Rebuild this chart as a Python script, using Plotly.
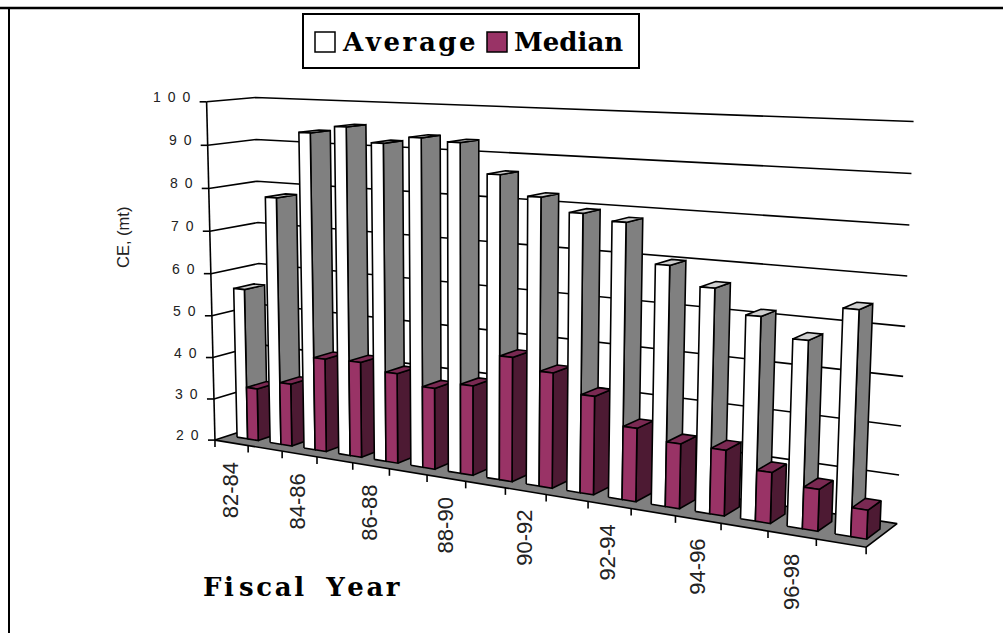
import numpy as np
import plotly.graph_objects as go

# --- data ---
periods = ["82-84","83-85","84-86","85-87","86-88","87-89","88-90","89-91",
           "90-92","91-93","92-94","93-95","94-96","95-97","96-98","97-99"]
average = [56, 78.2, 93.5, 95.2, 92, 93.6, 93, 86.6, 82.4, 79.6, 78.4, 70.3, 66.5, 61.7, 57.9, 64.9]
median = [32.5, 34.8, 41.8, 42.1, 40.6, 38.4, 40.1, 47.5, 45.2, 41.3, 35.7, 33.7, 33.7, 30.5, 28.5, 25.8]
z_ticks = [20, 30, 40, 50, 60, 70, 80, 90, 100]
z_labels = ["2\u20020", "3\u20020", "4\u20020", "5\u20020", "6\u20020", "7\u20020", "8\u20020", "9\u20020", "1\u20020\u20020"]
x_label_every = 2

# --- oblique camera, fitted to the corners of the chart's 3-D box ---
Z0, Z1, NU = 20, 100, len(periods)
frame = [  # (category position, depth, value) -> (pixel x, pixel y)
    ((0, 0, 20), (217, 439)), ((0, 0, 100), (205, 102)), ((0, 0, 90), (207, 146)),
    ((0, 1, 100), (257, 97)), ((0, 1, 90), (257, 139)), ((0, 1, 20), (260, 426)),
    ((16, 0, 20), (867, 547)), ((16, 1, 20), (897, 523)), ((16, 1, 100), (913.5, 122)),
    ((16, 1, 60), (905, 326)), ((8, 0, 20), (505, 488)), ((4, 0, 20), (353, 462)),
    ((12, 0, 20), (675, 517)),
]
def _norm(u, d, z):
    return u / NU, d, (z - Z0) / (Z1 - Z0)
A, b = [], []
for (p3, (px, py)) in frame:
    X, Y, W = _norm(*p3)
    A.append([X, Y, W, 1, 0, 0, 0, 0, -px*X, -px*Y, -px*W]); b.append(px)
    A.append([0, 0, 0, 0, X, Y, W, 1, -py*X, -py*Y, -py*W]); b.append(py)
sol = np.linalg.lstsq(np.array(A, float), np.array(b, float), rcond=None)[0]
P = np.append(sol, 1.0).reshape(3, 4)
def proj(u, d, z):
    X, Y, W = _norm(u, d, z)
    v = P @ np.array([X, Y, W, 1.0])
    return v[0] / v[2], v[1] / v[2]

fig = go.Figure()
LW = 1.6
def poly(pts, fill):
    xs, ys = zip(*[proj(*p) for p in pts])
    fig.add_trace(go.Scatter(x=list(xs)+[xs[0]], y=list(ys)+[ys[0]], mode="lines", fill="toself",
                             fillcolor=fill, line=dict(color="black", width=LW),
                             hoverinfo="skip", showlegend=False))
def line(pts, width=LW):
    xs, ys = zip(*[proj(*p) for p in pts])
    fig.add_trace(go.Scatter(x=list(xs), y=list(ys), mode="lines", line=dict(color="black", width=width),
                             hoverinfo="skip", showlegend=False))

# walls and floor
for z in z_ticks[1:]:
    line([(0, 0, z), (0, 1, z), (NU, 1, z)])
poly([(0, 0, Z0), (NU, 0, Z0), (NU, 1, Z0), (0, 1, Z0)], "#808080")
line([(0, 0, Z0), (0, 0, Z1)])

# bars
GAP, W, D0, D1, PITCH = 0.27, 0.32, 0.275, 0.70, 0.995
def bar(u0, u1, z, front, side, top):
    poly([(u1, D0, Z0), (u1, D1, Z0), (u1, D1, z), (u1, D0, z)], side)
    poly([(u0, D0, z), (u1, D0, z), (u1, D1, z), (u0, D1, z)], top)
    poly([(u0, D0, Z0), (u1, D0, Z0), (u1, D0, z), (u0, D0, z)], front)
for i in range(NU):
    u = i * PITCH + GAP
    bar(u, u+W, average[i], "#FFFFFF", "#808080", "#D0D0D0")
    bar(u+W, u+2*W, median[i], "#993366", "#4D1A33", "#7A2952")

# ticks and labels (offsets from the axis in pixels)
ann = []
tx, ty = [], []
for i in range(NU + 1):
    x, y = proj(i, 0, Z0)
    tx += [x, x, None]; ty += [y, y + 7, None]
for z, lab in zip(z_ticks, z_labels):
    x, y = proj(0, 0, z)
    tx += [x - 7, x, None]; ty += [y, y, None]
    ann.append(dict(x=x - 13.5, y=y - 5, text=lab, xanchor="right", yanchor="middle", showarrow=False,
                    font=dict(family="Liberation Sans", size=14, color="#222222")))
fig.add_trace(go.Scatter(x=tx, y=ty, mode="lines", line=dict(color="black", width=LW),
                         hoverinfo="skip", showlegend=False))
for i in range(0, NU, x_label_every):
    x, y = proj(i + 0.5, 0, Z0)
    ann.append(dict(x=x - 1, y=y + 47, text=periods[i], textangle=-90, xanchor="center", yanchor="middle",
                    showarrow=False, font=dict(family="Liberation Sans", size=22, color="#222222")))
ann.append(dict(x=123, y=238, text="CE, (mt)", textangle=-90, xanchor="center", yanchor="middle", showarrow=False,
                font=dict(family="Liberation Sans", size=16.5, color="#222222")))
hair, thin = "\u200a", "\u2009"
ann.append(dict(x=201, y=587, text="<b>F" + hair + "i" + thin + hair.join("scal") + " \u2002" + hair.join("Year") + "</b>",
                xanchor="left", yanchor="middle", showarrow=False,
                font=dict(family="DejaVu Serif", size=26, color="black")))
ann.append(dict(x=340, y=42, text="<b>" + hair.join("Average") + "</b>", xanchor="left", yanchor="middle", showarrow=False,
                font=dict(family="DejaVu Serif", size=26, color="black")))
ann.append(dict(x=512, y=42, text="<b>Median</b>", xanchor="left", yanchor="middle", showarrow=False,
                font=dict(family="DejaVu Serif", size=26, color="black")))

shapes = [
    dict(type="line", x0=0, x1=1003, y0=8, y1=8, line=dict(color="black", width=2.5)),
    dict(type="line", x0=9, x1=9, y0=8, y1=633, line=dict(color="black", width=2)),
    dict(type="rect", x0=303, x1=639, y0=14, y1=68, line=dict(color="black", width=2), fillcolor="white"),
    dict(type="rect", x0=315, x1=335, y0=32, y1=52, line=dict(color="black", width=1.5), fillcolor="white"),
    dict(type="rect", x0=487, x1=507, y0=32, y1=52, line=dict(color="black", width=1.5), fillcolor="#993366"),
]
fig.update_layout(width=1003, height=633, margin=dict(l=0, r=0, t=0, b=0), autosize=False,
                  paper_bgcolor="white", plot_bgcolor="white", showlegend=False,
                  annotations=ann, shapes=shapes,
                  xaxis=dict(range=[0, 1003], visible=False, fixedrange=True),
                  yaxis=dict(range=[633, 0], visible=False, fixedrange=True))
fig.write_html("out.html", config=dict(displayModeBar=False),
               post_script="document.body.style.margin='0';document.documentElement.style.overflow='hidden';")
